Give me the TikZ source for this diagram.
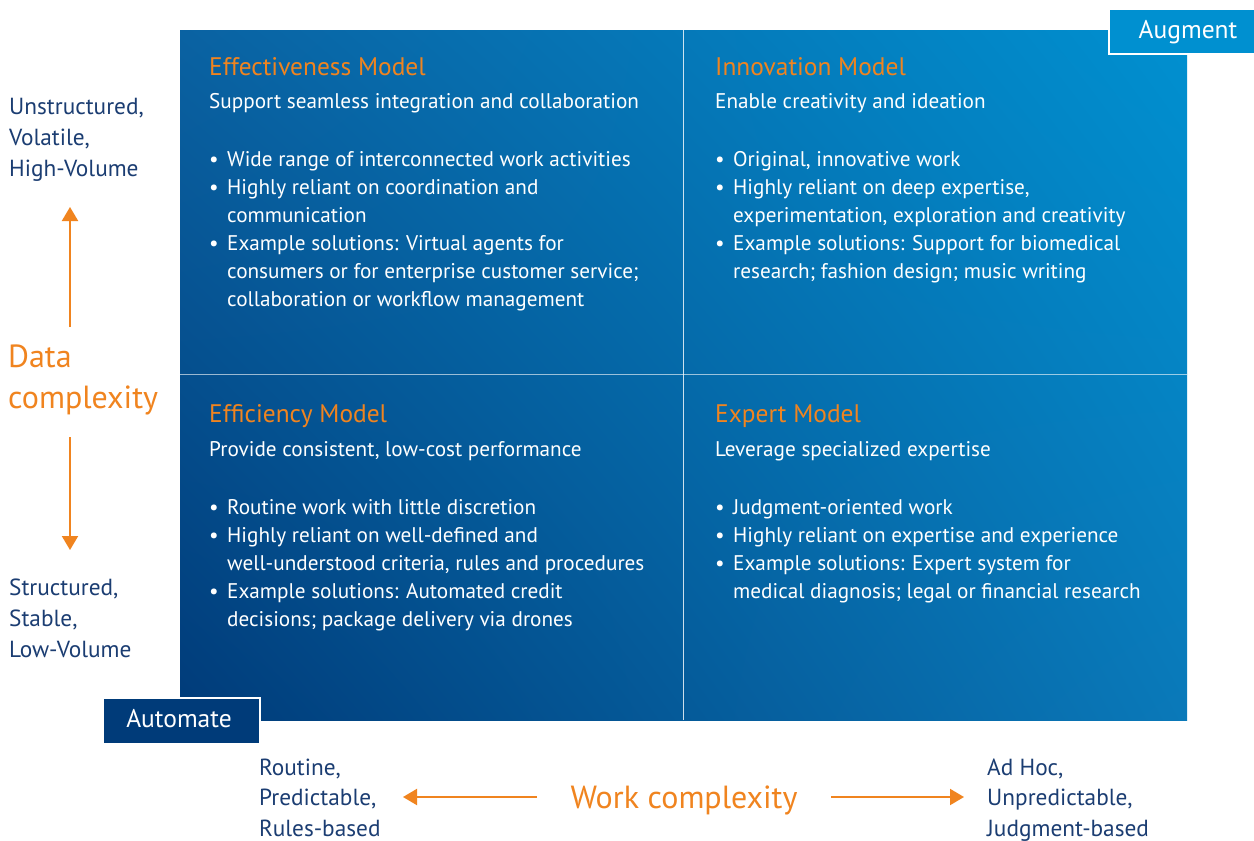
\documentclass[tikz,border=0pt]{standalone}
\usepackage{fontspec}
\setmainfont{PT Sans}
\usetikzlibrary{arrows.meta,shadings}
\definecolor{accorange}{HTML}{F0841F}
\definecolor{navytext}{HTML}{1B3D72}
\definecolor{boxlight}{HTML}{0090D0}
\definecolor{boxdark}{HTML}{003B79}
\definecolor{gradUL}{HTML}{0A62A2}
\definecolor{gradLR}{HTML}{0A79B9}
\newcommand{\bdot}{\makebox[18pt][l]{•}}
\newcommand{\bind}{\hspace*{18pt}}
\begin{document}
\begin{tikzpicture}[x=1pt,y=-1pt,
  title/.style={anchor=base west,inner sep=0pt,text=accorange,font=\fontsize{25.4}{28}\selectfont},
  sub/.style={anchor=base west,inner sep=0pt,text=white,font=\fontsize{21.2}{28}\selectfont},
  bul/.style={anchor=base west,inner sep=0pt,text=white,font=\fontsize{21.2}{28}\selectfont},
  axislab/.style={anchor=base west,inner sep=0pt,text=navytext,font=\fontsize{23.3}{31}\selectfont},
  axistitle/.style={inner sep=0pt,text=accorange,font=\fontsize{32}{42}\selectfont},
  tag/.style={inner sep=0pt,text=white,font=\fontsize{25.5}{30}\selectfont},
  axarrow/.style={draw=accorange,line width=2pt,-{Triangle[length=14pt,width=16pt]}}
]
\useasboundingbox (0,0) rectangle (1254,841);
\fill[white] (0,0) rectangle (1254,841);

% quadrant background with diagonal gradient
\shade[upper left=gradUL,upper right=boxlight,lower left=boxdark,lower right=gradLR]
  (180,30) rectangle (1187,720);
\draw[white,opacity=0.8,line width=1pt] (683.5,30) -- (683.5,720);
\draw[white,opacity=0.6,line width=1.2pt] (180,374.5) -- (1187,374.5);

% corner tags
\node[draw=white,line width=2pt,fill=boxlight,minimum width=150pt,minimum height=45pt,anchor=north west] (augbox) at (1108,8) {};
\node[tag,anchor=base] (aug) at (1188,38) {Augment};
\node[draw=white,line width=2pt,fill=boxdark,minimum width=157pt,minimum height=46pt,anchor=north west] (autobox) at (102,697) {};
\node[tag,anchor=base] (auto) at (179,727) {Automate};

% Effectiveness quadrant
\node[title] (t1) at (209,75) {Effectiveness Model};
\node[sub] (s1) at (209,108) {Support seamless integration and collaboration};
\node[bul] (e1) at (209,166) {\bdot Wide range of interconnected work activities};
\node[bul] (e2) at (209,194) {\bdot Highly reliant on coordination and};
\node[bul] (e3) at (209,222) {\bind communication};
\node[bul] (e4) at (209,250) {\bdot Example solutions: Virtual agents for};
\node[bul] (e5) at (209,278) {\bind consumers or for enterprise customer service;};
\node[bul] (e6) at (209,306) {\bind collaboration or workflow management};

% Innovation quadrant
\node[title] (t2) at (715,75) {Innovation Model};
\node[sub] (s2) at (715,108) {Enable creativity and ideation};
\node[bul] (i1) at (715,166) {\bdot Original, innovative work};
\node[bul] (i2) at (715,194) {\bdot Highly reliant on deep expertise,};
\node[bul] (i3) at (715,222) {\bind experimentation, exploration and creativity};
\node[bul] (i4) at (715,250) {\bdot Example solutions: Support for biomedical};
\node[bul] (i5) at (715,278) {\bind research; fashion design; music writing};

% Efficiency quadrant
\node[title] (t3) at (209,422) {Efficiency Model};
\node[sub] (s3) at (209,456) {Provide consistent, low-cost performance};
\node[bul] (f1) at (209,514) {\bdot Routine work with little discretion};
\node[bul] (f2) at (209,542) {\bdot Highly reliant on well-defined and};
\node[bul] (f3) at (209,570) {\bind well-understood criteria, rules and procedures};
\node[bul] (f4) at (209,598) {\bdot Example solutions: Automated credit};
\node[bul] (f5) at (209,626) {\bind decisions; package delivery via drones};

% Expert quadrant
\node[title] (t4) at (715,422) {Expert Model};
\node[sub] (s4) at (715,456) {Leverage specialized expertise};
\node[bul] (x1) at (715,514) {\bdot Judgment-oriented work};
\node[bul] (x2) at (715,542) {\bdot Highly reliant on expertise and experience};
\node[bul] (x3) at (715,570) {\bdot Example solutions: Expert system for};
\node[bul] (x4) at (715,598) {\bind medical diagnosis; legal or financial research};

% vertical axis
\node[axislab] (hi1) at (9,114) {Unstructured,};
\node[axislab] (hi2) at (9,145) {Volatile,};
\node[axislab] (hi3) at (9,176) {High-Volume};
\node[axislab] (lo1) at (9,595) {Structured,};
\node[axislab] (lo2) at (9,626) {Stable,};
\node[axislab] (lo3) at (9,657) {Low-Volume};
\node[axistitle,anchor=base west] (dc1) at (8,367) {Data};
\node[axistitle,anchor=base west] (dc2) at (8,408) {complexity};
\coordinate (upstart) at (70,327);
\coordinate (uptip) at (70,207);
\coordinate (dnstart) at (70,437);
\coordinate (dntip) at (70,550);
\draw[axarrow] (upstart) -- (uptip);
\draw[axarrow] (dnstart) -- (dntip);

% horizontal axis
\node[axislab] (l1) at (259,775) {Routine,};
\node[axislab] (l2) at (259,805.5) {Predictable,};
\node[axislab] (l3) at (259,836) {Rules-based};
\node[axislab] (r1) at (987,775) {Ad Hoc,};
\node[axislab] (r2) at (987,805.5) {Unpredictable,};
\node[axislab] (r3) at (987,836) {Judgment-based};
\node[axistitle,anchor=base] (wc) at (684,808) {Work complexity};
\coordinate (lstart) at (537,797);
\coordinate (ltip) at (403,797);
\coordinate (rstart) at (831,797);
\coordinate (rtip) at (964,797);
\draw[axarrow] (lstart) -- (ltip);
\draw[axarrow] (rstart) -- (rtip);
\end{tikzpicture}
\end{document}
